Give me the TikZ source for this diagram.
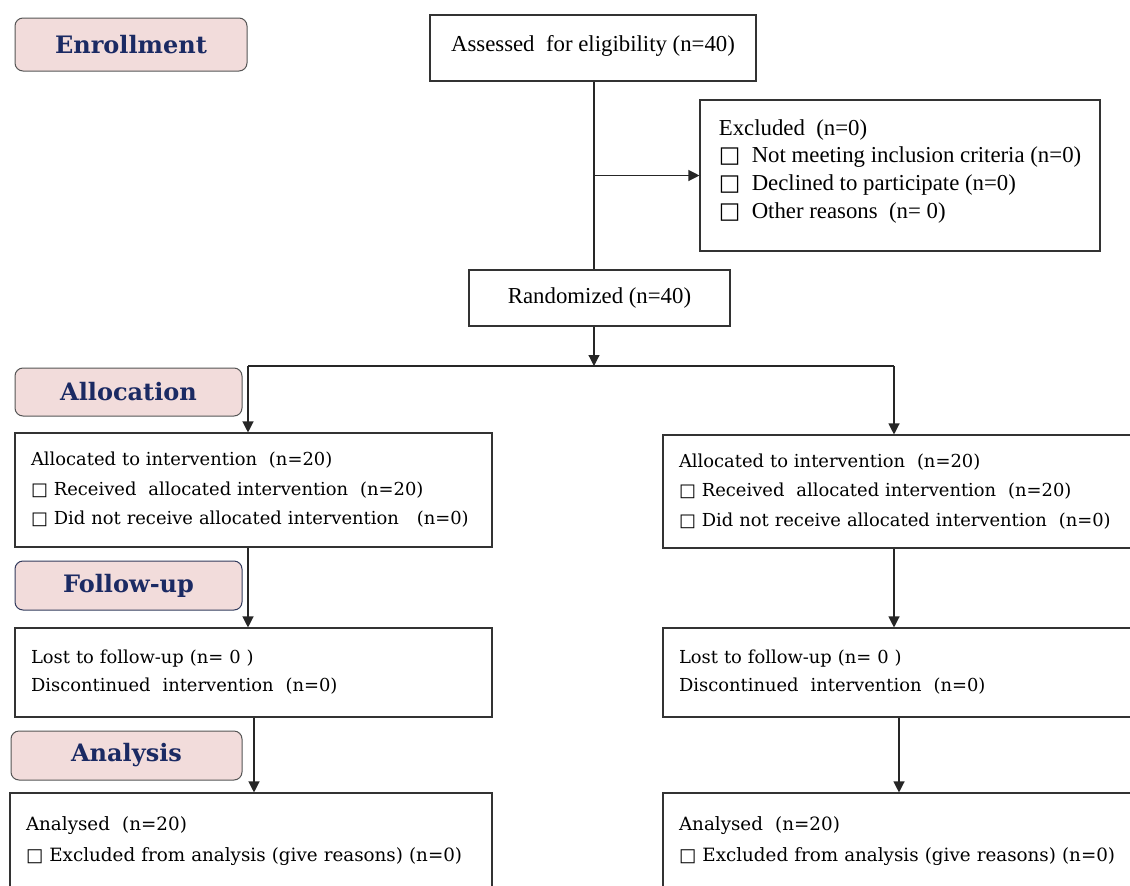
\documentclass[tikz,border=0pt]{standalone}
\usepackage{fontspec}
\setmainfont{DejaVu Serif}
\newfontfamily\condfont{Liberation Serif}
\newfontfamily\symfont{DejaVu Sans}
\usetikzlibrary{arrows.meta}
\definecolor{headfill}{HTML}{F2DCDB}
\definecolor{headtext}{HTML}{1B2A63}
\definecolor{headline}{HTML}{555555}
\newcommand{\sqbox}{{\symfont □}}
\tikzset{
  arr/.style={-{Triangle[width=11pt,length=11pt]}},
  conn/.style={draw=black!85, line width=1.2pt},
  headbox/.style={draw=headline, fill=headfill, rounded corners=8pt, line width=1pt,
    font=\fontsize{24}{28}\selectfont\bfseries, text=headtext, inner sep=0pt},
  flowbox/.style={draw=black!80, line width=1.1pt, align=left, inner xsep=16pt, inner ysep=0pt,
    font=\fontsize{17.9}{29.5}\selectfont},
  condbox/.style={draw=black!80, line width=1.1pt, inner sep=0pt,
    font=\condfont\fontsize{22.8}{27.7}\selectfont},
}
\begin{document}
\begin{tikzpicture}[x=1pt,y=-1pt]
\useasboundingbox (0,0) rectangle (1130,886);
\begin{scope}
\clip (0,0) rectangle (1130,886);
% phase headings
\node[headbox, minimum width=232pt, minimum height=53pt] (enr) at (131,44.5) {Enrollment};
\node[headbox, minimum width=227pt, minimum height=48pt] (alloc) at (128.5,392) {Allocation};
\node[headbox, draw=headtext!60!headline, minimum width=227pt, minimum height=49pt] (fup) at (128.5,585.5) {Follow-up};
\node[headbox, minimum width=231pt, minimum height=49pt] (ana) at (126.5,755.5) {Analysis};

% top boxes
\node[condbox, minimum width=326pt, minimum height=66pt, text depth=10pt] (assess) at (593,48) {Assessed\ \ for eligibility (n=40)};
\node[condbox, minimum width=400pt, minimum height=151pt, align=left] (excl) at (900,175.5)
  {Excluded\ \ (n=0)\\
   \sqbox\ \ Not meeting inclusion criteria (n=0)\\
   \sqbox\ \ Declined to participate (n=0)\\
   \sqbox\ \ Other reasons\ \ (n= 0)\\[-14pt]\mbox{}};
\node[condbox, minimum width=261pt, minimum height=56pt] (rand) at (599.5,298) {Randomized (n=40)};

% allocation boxes
\node[flowbox, minimum width=477pt, minimum height=114pt, text width=445pt] (allocL) at (253.5,490)
  {Allocated to intervention\ \ (n=20)\\
   \sqbox\ Received\ \ allocated intervention\ \ (n=20)\\
   \sqbox\ Did not receive allocated intervention\ \ \ (n=0)};
\node[flowbox, minimum width=477pt, minimum height=113pt, text width=445pt] (allocR) at (901.5,491.5)
  {Allocated to intervention\ \ (n=20)\\
   \sqbox\ Received\ \ allocated intervention\ \ (n=20)\\
   \sqbox\ Did not receive allocated intervention\ \ (n=0)};

% follow-up boxes
\node[flowbox, minimum width=477pt, minimum height=89pt, text width=445pt, font=\fontsize{17.9}{28}\selectfont] (fupL) at (253.5,672.5)
  {Lost to follow-up (n= 0 )\\
   Discontinued\ \ intervention\ \ (n=0)};
\node[flowbox, minimum width=477pt, minimum height=89pt, text width=445pt, font=\fontsize{17.9}{28}\selectfont] (fupR) at (901.5,672.5)
  {Lost to follow-up (n= 0 )\\
   Discontinued\ \ intervention\ \ (n=0)};

% analysis boxes
\node[flowbox, minimum width=482pt, minimum height=124pt, text width=450pt, font=\fontsize{18.3}{31}\selectfont] (anaL) at (251,855)
  {Analysed\ \ (n=20)\\
   \sqbox\ Excluded from analysis (give reasons) (n=0)\\ \mbox{}};
\node[flowbox, minimum width=477pt, minimum height=124pt, text width=445pt, font=\fontsize{18.3}{31}\selectfont] (anaR) at (901.5,855)
  {Analysed\ \ (n=20)\\
   \sqbox\ Excluded from analysis (give reasons) (n=0)\\ \mbox{}};

% connectors
\coordinate (trunk) at (594,0);
\coordinate (split) at (594,366);
\coordinate (la) at (248,366);
\coordinate (ra) at (894,366);
\coordinate (lc) at (254,0);
\coordinate (rc) at (899,0);
\draw[conn] (trunk |- assess.south) -- (trunk |- rand.north);
\draw[conn, arr] (trunk |- excl.west) -- (excl.west);
\draw[conn, arr] (trunk |- rand.south) -- (split);
\draw[conn] (la) -- (ra);
\draw[conn, arr] (la) -- (la |- allocL.north);
\draw[conn, arr] (ra) -- (ra |- allocR.north);
\draw[conn, arr] (la |- allocL.south) -- (la |- fupL.north);
\draw[conn, arr] (ra |- allocR.south) -- (ra |- fupR.north);
\draw[conn, arr] (lc |- fupL.south) -- (lc |- anaL.north);
\draw[conn, arr] (rc |- fupR.south) -- (rc |- anaR.north);
\end{scope}
\end{tikzpicture}
\end{document}
